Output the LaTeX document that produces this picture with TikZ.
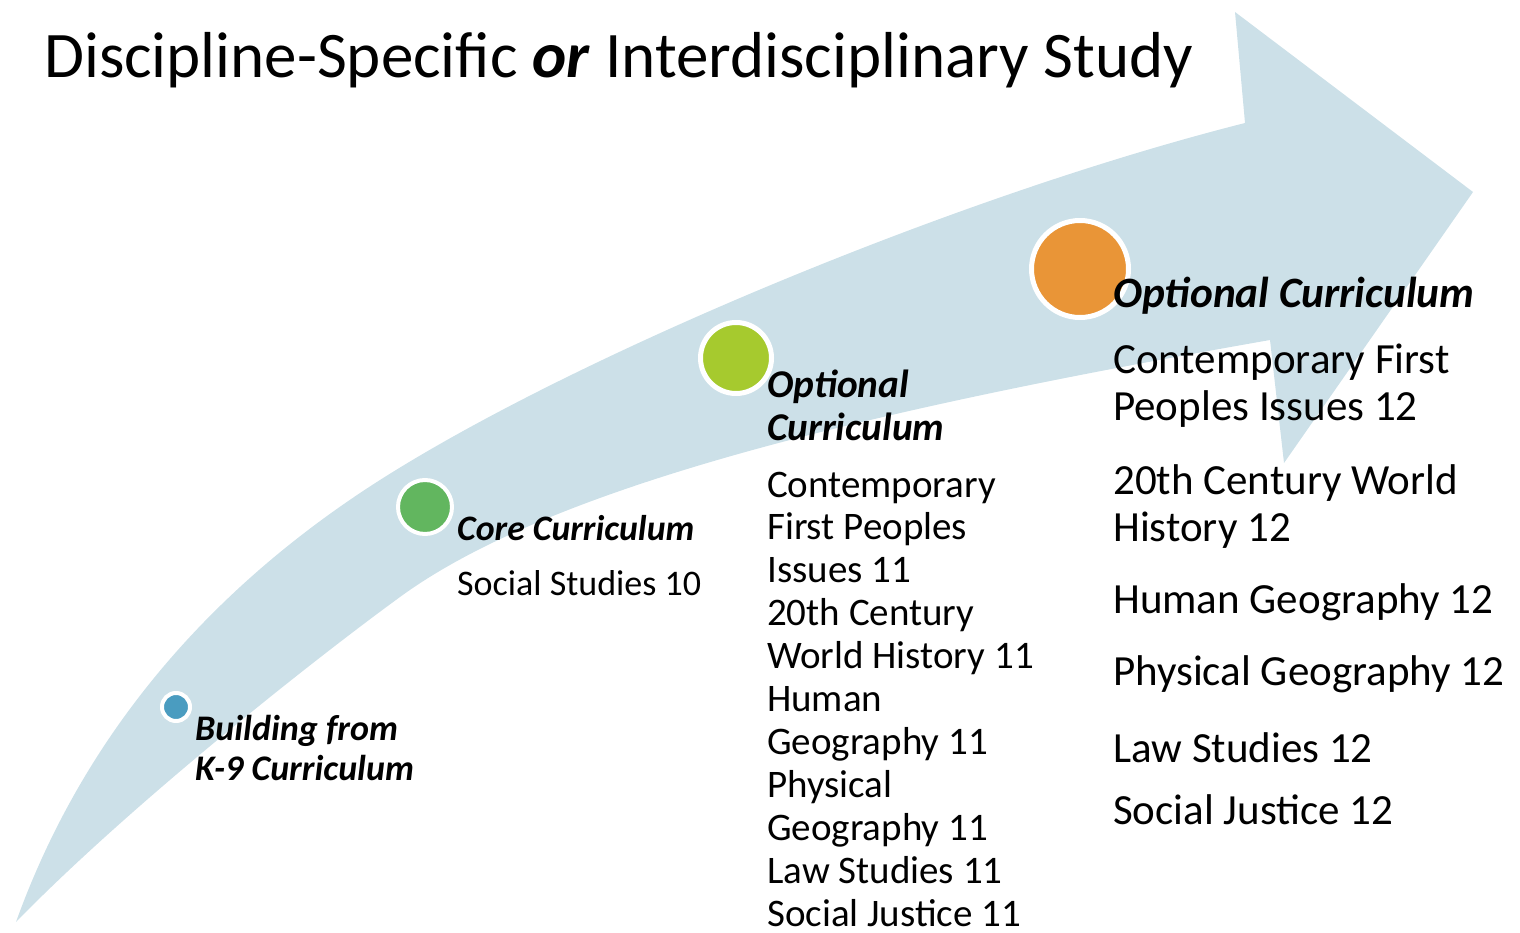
\documentclass[tikz,border=0pt]{standalone}
\usepackage{fontspec}
\setmainfont{Carlito}

\definecolor{arrowblue}{RGB}{204,224,232}
\definecolor{dotblue}{RGB}{74,156,192}
\definecolor{dotgreen}{RGB}{98,182,95}
\definecolor{dotlime}{RGB}{166,202,46}
\definecolor{dotorange}{RGB}{233,149,55}

\tikzset{
  stagedot/.style={circle, draw=white, inner sep=0pt},
  stagelabel/.style={anchor=base west, inner sep=0pt, font=\bfseries\itshape},
  course/.style={anchor=base west, inner sep=0pt},
}

\begin{document}
\begin{tikzpicture}[x=1pt,y=-1pt]
     \useasboundingbox (0,0) rectangle (1520,933);
     %%%%%%%%%%%%%%%%%%%%%%%%%%%%%%%%%%%%%%%%%%%%%%
     %%% The big curved arrow behind everything
     %%%%%%%%%%%%%%%%%%%%%%%%%%%%%%%%%%%%%%%%%%%%%%
     \fill[arrowblue] (16,922) .. controls (85,730) and (215,585) .. (380,480)
          .. controls (578,354) and (960,195) .. (1245,123)
          -- (1235,12) -- (1473,192) -- (1284,463) -- (1270,340)
          .. controls (900,405) and (560,480) .. (400,597)
          .. controls (304,667) and (125,810) .. (16,922) -- cycle;

     % Title
     \node[anchor=base west, inner sep=0pt, font=\fontsize{65}{70}\selectfont] (title) at (44,78)
          {Discipline-Specific \textbf{\textit{or}} Interdisciplinary Study};

     % Stage markers along the arrow
     \node[stagedot, fill=dotblue, line width=4pt, minimum size=28pt] (k9dot) at (176,707) {};
     \node[stagedot, fill=dotgreen, line width=4pt, minimum size=54pt] (coredot) at (425,507) {};
     \node[stagedot, fill=dotlime, line width=5pt, minimum size=71pt] (opt11dot) at (736,358) {};
     \node[stagedot, fill=dotorange, line width=5pt, minimum size=97pt] (opt12dot) at (1080,269) {};

     %%%%%%%%%%%%%%%%%%%%%%%%%%%%%%%%%%%%%%%%%%%%%%
     %%% Building from K-9
     %%%%%%%%%%%%%%%%%%%%%%%%%%%%%%%%%%%%%%%%%%%%%%
     \node[stagelabel, font=\fontsize{36}{40}\bfseries\itshape] (k9a) at (195,740) {Building from};
     \node[stagelabel, font=\fontsize{36}{40}\bfseries\itshape] (k9b) at (195,780) {K-9 Curriculum};

     %%%%%%%%%%%%%%%%%%%%%%%%%%%%%%%%%%%%%%%%%%%%%%
     %%% Core curriculum (grade 10)
     %%%%%%%%%%%%%%%%%%%%%%%%%%%%%%%%%%%%%%%%%%%%%%
     \node[stagelabel, font=\fontsize{35.8}{40}\bfseries\itshape] (corelabel) at (457,540) {Core Curriculum};
     \node[course, font=\fontsize{36}{40}\selectfont] (ss10) at (457,595) {Social Studies 10};

     %%%%%%%%%%%%%%%%%%%%%%%%%%%%%%%%%%%%%%%%%%%%%%
     %%% Optional curriculum (grade 11)
     %%%%%%%%%%%%%%%%%%%%%%%%%%%%%%%%%%%%%%%%%%%%%%
     \node[stagelabel, font=\fontsize{39.3}{42}\bfseries\itshape] (opt11a) at (767,397) {Optional};
     \node[stagelabel, font=\fontsize{39.3}{42}\bfseries\itshape] (opt11b) at (767,440) {Curriculum};
     \foreach \txt [count=\i] in {Contemporary, First Peoples, Issues 11, 20th Century,
           World History 11, Human, Geography 11, Physical, Geography 11,
           Law Studies 11, Social Justice 11}
         \node[course, font=\fontsize{39}{42}\selectfont] (course11\i) at (767,{497+42.9*(\i-1)}) {\txt};

     %%%%%%%%%%%%%%%%%%%%%%%%%%%%%%%%%%%%%%%%%%%%%%
     %%% Optional curriculum (grade 12)
     %%%%%%%%%%%%%%%%%%%%%%%%%%%%%%%%%%%%%%%%%%%%%%
     \node[stagelabel, font=\fontsize{43.3}{46}\bfseries\itshape] (opt12) at (1113,308) {Optional Curriculum};
     \foreach \txt/\y [count=\i] in {Contemporary First/373, Peoples Issues 12/420,
           20th Century World/494, History 12/541, Human Geography 12/613,
           Physical Geography 12/685, Law Studies 12/762, Social Justice 12/824}
         \node[course, font=\fontsize{43}{46}\selectfont] (course12\i) at (1113,\y) {\txt};
\end{tikzpicture}
\end{document}
